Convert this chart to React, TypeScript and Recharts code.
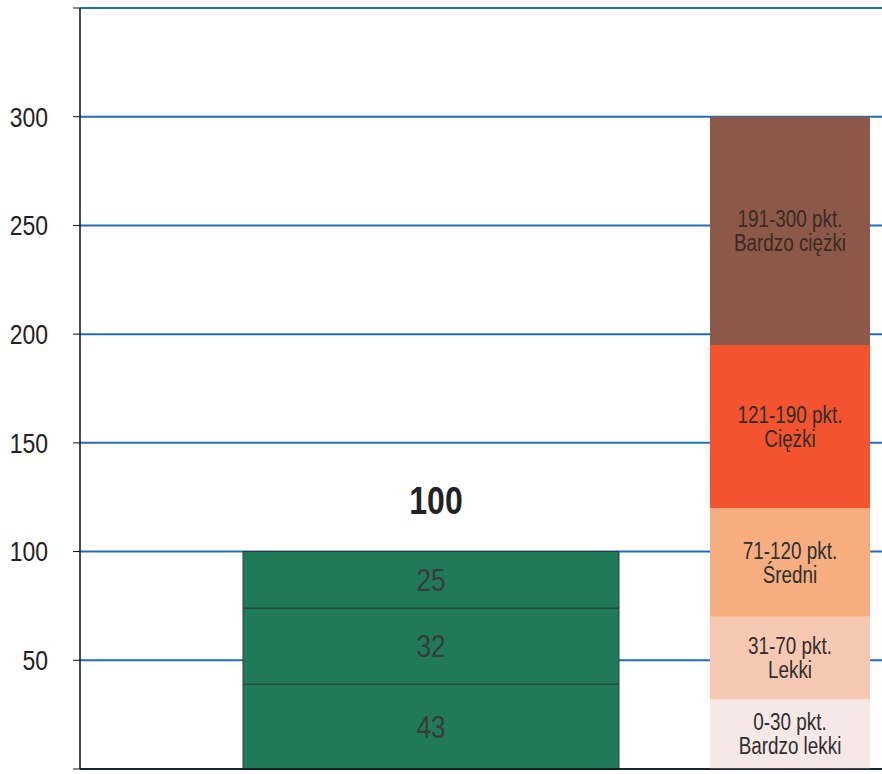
import { BarChart, Bar, XAxis, YAxis, CartesianGrid, LabelList, Rectangle } from 'recharts';

const categories = ['Wynik', 'Skala'];
const resultValues = [39, 35, 26];
const resultLabels = ['43', '32', '25'];
const resultTotal = '100';
const scaleValues = [32, 38, 50, 75, 105];
const scaleRanges = ['0-30 pkt.', '31-70 pkt.', '71-120 pkt.', '121-190 pkt.', '191-300 pkt.'];
const scaleNames = ['Bardzo lekki', 'Lekki', 'Średni', 'Ciężki', 'Bardzo ciężki'];
const yTicks = [0, 50, 100, 150, 200, 250, 300, 350];

const scaleColors = ['#f6e8e5', '#f8c9b2', '#f6ae80', '#f3532e', '#8c5848'];
const GREEN = '#1f7a59';
const GREEN_WIDTH = 376;
const FONT = '"Liberation Sans", Arial, sans-serif';
const NARROW = 0.82; // no Arial Narrow installed, squeeze Liberation Sans instead

const data = categories.map((name, i) => {
  const row: Record<string, any> = { name };
  if (i === 0) resultValues.forEach((v, j) => (row[`r${j}`] = v));
  else scaleValues.forEach((v, j) => (row[`s${j}`] = v));
  return row;
});

const Narrow = ({ x, y, size, fill, anchor = 'middle', weight = 'normal', baseline = 'central', children }: any) => (
  <text
    transform={`translate(${x},${y}) scale(${NARROW},1)`}
    textAnchor={anchor}
    dominantBaseline={baseline}
    fontFamily={FONT}
    fontSize={size}
    fontWeight={weight}
    fill={fill}
  >
    {children}
  </text>
);

// the result bar is drawn wider than the scale bar, around the same centre
const WideBar = (p: any) => {
  if (!p.height) return null;
  return (
    <Rectangle
      x={p.x + p.width / 2 - GREEN_WIDTH / 2}
      y={p.y}
      width={GREEN_WIDTH}
      height={p.height}
      fill={GREEN}
      stroke="#2c3d36"
      strokeWidth={1}
    />
  );
};

const resultLabel = (j: number) => (p: any) => {
  if (p.value == null || !p.height) return null;
  return (
    <Narrow x={p.x + p.width / 2} y={p.y + p.height / 2} size={32} fill="#3a3a3a">
      {resultLabels[j]}
    </Narrow>
  );
};

const totalLabel = (p: any) => {
  if (p.value == null || !p.height) return null;
  return (
    <Narrow x={p.x + p.width / 2 + 5} y={p.y - 38} size={39} weight="bold" fill="#222" baseline="auto">
      {resultTotal}
    </Narrow>
  );
};

const scaleLabel = (j: number) => (p: any) => {
  if (p.value == null || !p.height) return null;
  const cx = p.x + p.width / 2;
  const cy = p.y + p.height / 2;
  const fill = j === 4 ? '#3a2a24' : '#2e2e2e';
  return (
    <g>
      <Narrow x={cx} y={cy - 12} size={23} fill={fill}>{scaleRanges[j]}</Narrow>
      <Narrow x={cx} y={cy + 12} size={23} fill={fill}>{scaleNames[j]}</Narrow>
    </g>
  );
};

const YTick = (p: any) => {
  const v = p.payload.value;
  if (v === 0 || v === 350) return null;
  return (
    <Narrow x={p.x} y={p.y} size={28} fill="#222" anchor="end">
      {v}
    </Narrow>
  );
};

export default function App() {
  return (
    <div style={{ position: 'absolute', left: 0, top: 0, width: 882, height: 774, overflow: 'hidden', background: '#fff' }}>
      <BarChart width={969} height={774} data={data} margin={{ top: 8, right: 0, bottom: 0, left: 0 }}>
        <CartesianGrid vertical={false} stroke="#236cbc" strokeWidth={2} />
        <XAxis
          dataKey="name"
          height={5}
          tick={false}
          tickLine={false}
          padding={{ left: 171, right: 0 }}
          axisLine={{ stroke: '#111', strokeWidth: 1.5 }}
        />
        <YAxis
          width={80}
          domain={[0, 350]}
          ticks={yTicks}
          interval={0}
          tickSize={7}
          tickMargin={25}
          tick={YTick}
          tickLine={{ stroke: '#111' }}
          axisLine={{ stroke: '#111', strokeWidth: 1.5 }}
        />
        {resultValues.map((_, j) => (
          <Bar key={`r${j}`} dataKey={`r${j}`} stackId="a" barSize={160} shape={WideBar} isAnimationActive={false}>
            <LabelList dataKey={`r${j}`} content={resultLabel(j)} />
            {j === resultValues.length - 1 && <LabelList dataKey={`r${j}`} content={totalLabel} />}
          </Bar>
        ))}
        {scaleValues.map((_, j) => (
          <Bar key={`s${j}`} dataKey={`s${j}`} stackId="a" barSize={160} fill={scaleColors[j]} isAnimationActive={false}>
            <LabelList dataKey={`s${j}`} content={scaleLabel(j)} />
          </Bar>
        ))}
      </BarChart>
    </div>
  );
}
